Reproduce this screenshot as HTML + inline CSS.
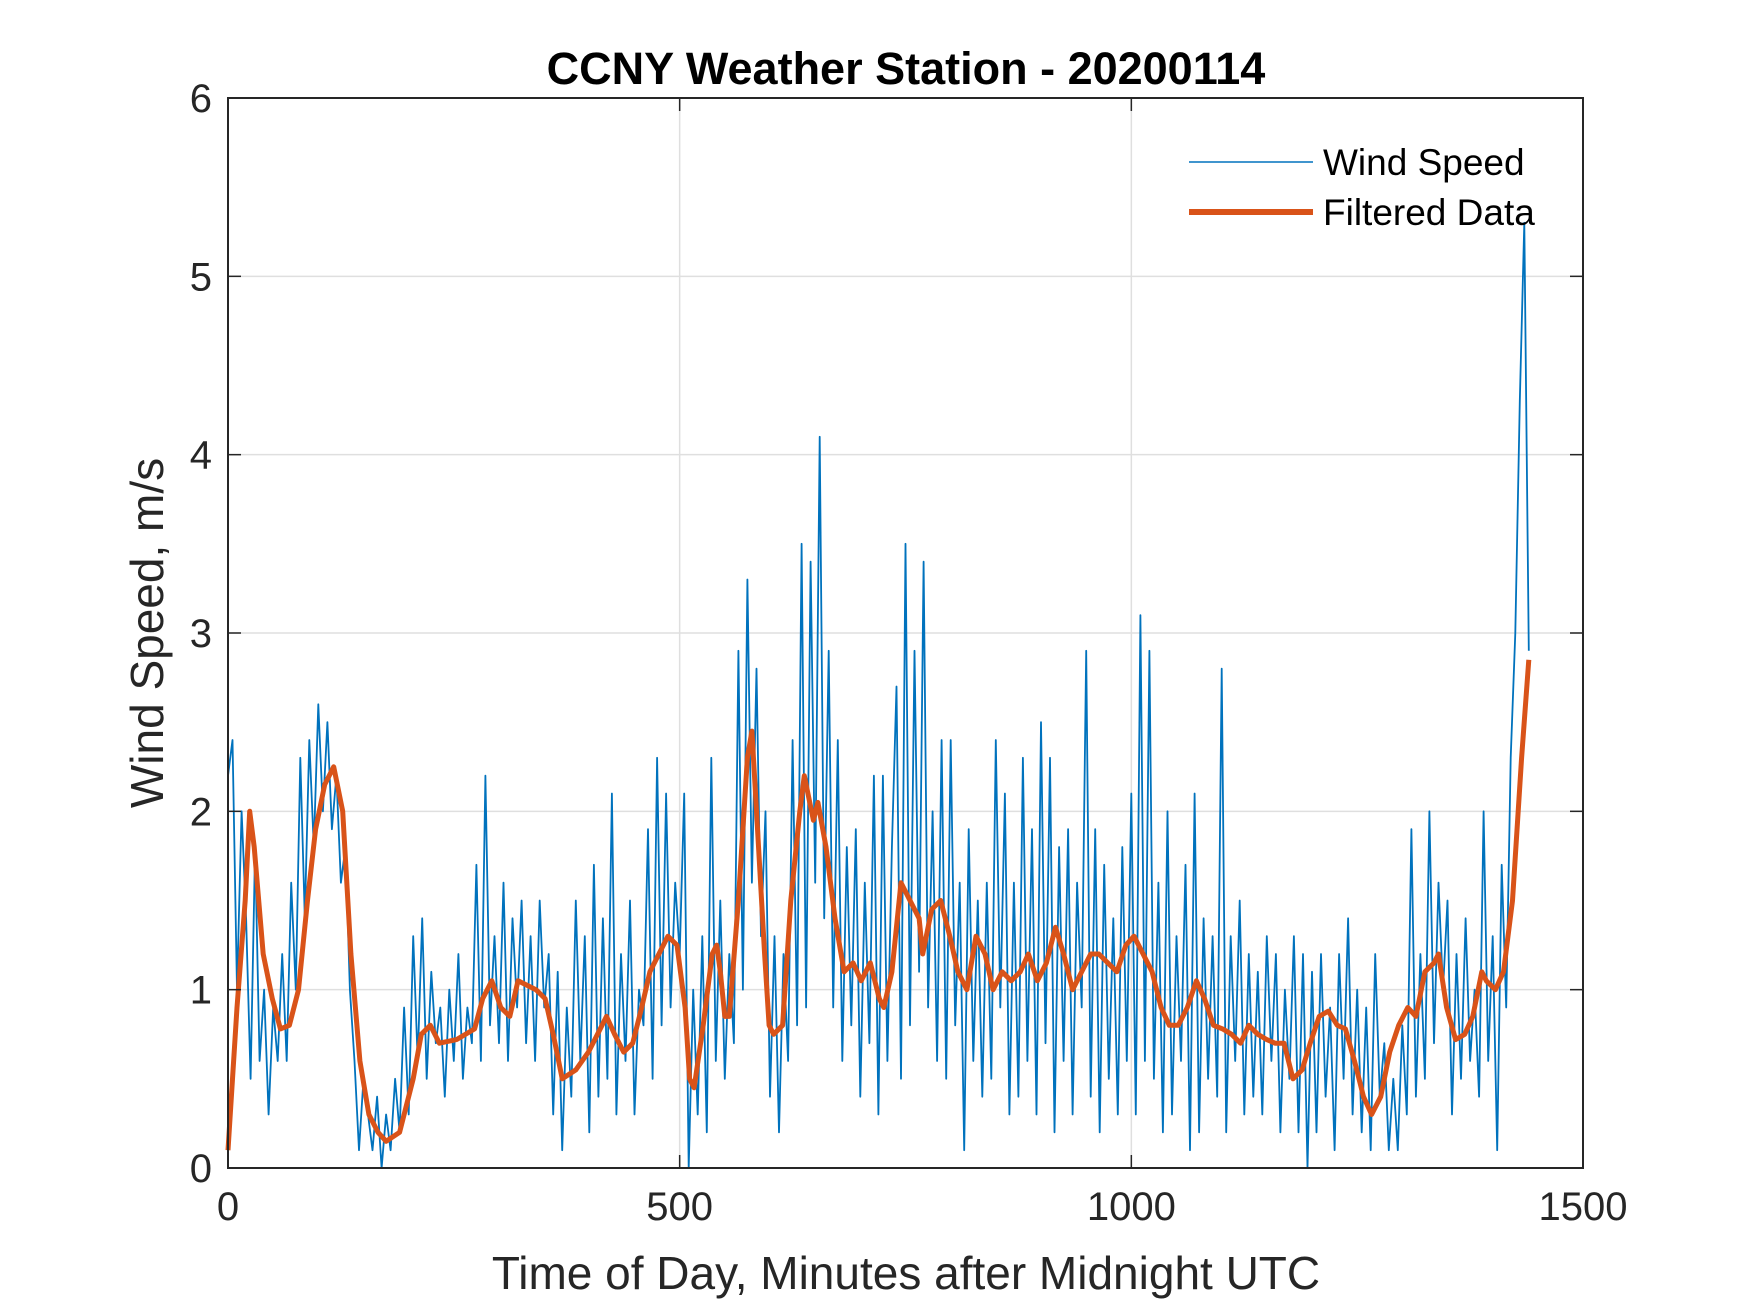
<!DOCTYPE html>
<html><head><meta charset="utf-8"><style>
html,body{margin:0;padding:0;background:#fff;}
svg{display:block;font-family:"Liberation Sans",Arial,sans-serif;}
</style></head><body>
<svg id="chart" width="1750" height="1313" viewBox="0 0 1750 1313" xmlns="http://www.w3.org/2000/svg">
<rect width="1750" height="1313" fill="#fff"/>
<g id="grid"></g>
<g id="plot"></g>
<g id="axes"></g>
<text x="906" y="84" text-anchor="middle" font-size="45" font-weight="bold" fill="#000">CCNY Weather Station - 20200114</text>
<text x="906" y="1289" text-anchor="middle" font-size="46" fill="#262626">Time of Day, Minutes after Midnight UTC</text>
<text transform="translate(163,633) rotate(-90)" text-anchor="middle" font-size="46" fill="#262626">Wind Speed, m/s</text>
<g>
<line x1="1189" y1="162" x2="1313" y2="162" stroke="#0072BD" stroke-width="1.5"/>
<text x="1323" y="175" font-size="37" fill="#000">Wind Speed</text>
<line x1="1189" y1="212" x2="1313" y2="212" stroke="#D95319" stroke-width="6"/>
<text x="1323" y="225" font-size="37" fill="#000">Filtered Data</text>
</g>
</svg>
<script>
const xTicks=[0,500,1000,1500];
const yTicks=[0,1,2,3,4,5,6];
const windStep=5;
const windSpeed=[
2.2,2.4,1.0,2.0,1.4,0.5,1.8,0.6,1.0,0.3,0.9,0.6,
1.2,0.6,1.6,1.0,2.3,1.4,2.4,1.8,2.6,2.0,2.5,1.9,
2.2,1.6,1.8,1.0,0.6,0.1,0.5,0.3,0.1,0.4,0.0,0.3,
0.1,0.5,0.2,0.9,0.3,1.3,0.6,1.4,0.5,1.1,0.7,0.9,
0.4,1.0,0.6,1.2,0.5,0.9,0.7,1.7,0.6,2.2,0.8,1.3,
0.7,1.6,0.6,1.4,0.9,1.5,0.7,1.3,0.6,1.5,0.9,1.2,
0.3,1.1,0.1,0.9,0.4,1.5,0.6,1.3,0.2,1.7,0.4,1.4,
0.5,2.1,0.3,1.2,0.6,1.5,0.3,1.0,0.8,1.9,0.5,2.3,
0.8,2.1,0.9,1.6,1.2,2.1,0.0,1.0,0.3,1.3,0.2,2.3,
0.6,1.5,0.5,1.2,0.7,2.9,1.0,3.3,1.6,2.8,1.3,2.0,
0.4,1.3,0.2,1.2,0.6,2.4,0.8,3.5,0.9,3.4,1.6,4.1,
1.4,2.9,0.9,2.4,0.6,1.8,0.8,1.9,0.4,1.6,0.7,2.2,
0.3,2.2,0.6,1.8,2.7,0.5,3.5,0.8,2.9,1.1,3.4,0.9,
2.0,0.6,2.4,0.5,2.4,0.8,1.6,0.1,1.9,0.6,1.5,0.4,
1.6,0.5,2.4,0.9,2.1,0.3,1.6,0.4,2.3,0.6,1.9,0.3,
2.5,0.7,2.3,0.2,1.8,0.6,1.9,0.3,1.6,0.9,2.9,0.4,
1.9,0.2,1.7,0.5,1.4,0.3,1.8,0.6,2.1,0.3,3.1,0.6,
2.9,0.5,1.6,0.2,2.0,0.3,1.3,0.6,1.7,0.1,2.1,0.2,
1.4,0.5,1.3,0.4,2.8,0.2,1.3,0.6,1.5,0.3,1.2,0.4,
1.1,0.3,1.3,0.6,1.2,0.2,1.0,0.5,1.3,0.2,1.2,0.0,
1.1,0.2,1.2,0.4,0.9,0.1,1.2,0.5,1.4,0.3,1.0,0.2,
0.9,0.1,1.2,0.4,0.7,0.1,0.5,0.1,0.8,0.3,1.9,0.4,
1.2,0.5,2.0,0.7,1.6,1.0,1.5,0.3,1.2,0.5,1.4,0.6,
1.0,0.4,2.0,0.6,1.3,0.1,1.7,0.9,2.3,3.0,4.3,5.3,
2.9];
const filtered=[
[0,0.1],[10,0.9],[19,1.5],[24,2.0],[29,1.8],[39,1.2],[49,0.95],[58,0.78],[68,0.8],[78,1.0],
[88,1.5],[97,1.9],[107,2.15],[117,2.25],[127,2.0],[136,1.2],[146,0.6],[156,0.3],[166,0.2],[175,0.15],
[190,0.2],[205,0.5],[214,0.75],[224,0.8],[234,0.7],[253,0.72],[273,0.78],[282,0.95],[292,1.05],[302,0.9],
[312,0.85],[321,1.05],[341,1.0],[351,0.95],[360,0.75],[370,0.5],[385,0.55],[399,0.65],[409,0.75],[419,0.85],
[428,0.75],[438,0.65],[448,0.7],[458,0.9],[467,1.1],[477,1.2],[487,1.3],[497,1.25],[506,0.9],[511,0.5],
[516,0.45],[526,0.8],[536,1.2],[541,1.25],[545,1.1],[550,0.85],[555,0.85],[565,1.5],[575,2.3],[580,2.45],
[584,2.1],[594,1.2],[599,0.8],[604,0.75],[614,0.8],[623,1.5],[633,2.0],[638,2.2],[648,1.95],[653,2.05],
[662,1.8],[672,1.4],[682,1.1],[692,1.15],[701,1.05],[711,1.15],[721,0.95],[726,0.9],[735,1.1],[745,1.6],
[755,1.5],[765,1.4],[769,1.2],[779,1.45],[789,1.5],[799,1.3],[808,1.1],[818,1.0],[828,1.3],[838,1.2],
[847,1.0],[857,1.1],[867,1.05],[877,1.1],[886,1.2],[896,1.05],[906,1.15],[916,1.35],[925,1.2],[935,1.0],
[945,1.1],[955,1.2],[964,1.2],[974,1.15],[984,1.1],[994,1.25],[1003,1.3],[1013,1.2],[1023,1.1],[1033,0.9],
[1042,0.8],[1052,0.8],[1062,0.9],[1072,1.05],[1081,0.95],[1091,0.8],[1101,0.78],[1111,0.75],[1121,0.7],[1130,0.8],
[1140,0.75],[1150,0.72],[1159,0.7],[1169,0.7],[1179,0.5],[1189,0.55],[1198,0.7],[1208,0.85],[1218,0.88],[1228,0.8],
[1237,0.78],[1247,0.6],[1257,0.4],[1266,0.3],[1276,0.4],[1286,0.65],[1296,0.8],[1306,0.9],[1315,0.85],[1325,1.1],
[1335,1.15],[1340,1.2],[1349,0.9],[1359,0.72],[1369,0.75],[1378,0.85],[1388,1.1],[1393,1.05],[1403,1.0],[1412,1.1],
[1422,1.5],[1432,2.3],[1440,2.85]];

const L=228,T=98,R=1583,B=1168;
const xMax=1500,yMax=6;
const NS="http://www.w3.org/2000/svg";
function sx(t){return L+(t/xMax)*(R-L);}
function sy(v){return B-(v/yMax)*(B-T);}
function mk(tag,attrs,parent){const e=document.createElementNS(NS,tag);for(const k in attrs)e.setAttribute(k,attrs[k]);parent.appendChild(e);return e;}
const grid=document.getElementById('grid'),plot=document.getElementById('plot'),axes=document.getElementById('axes');
xTicks.forEach(t=>{
  if(t>0&&t<xMax){const g=mk('line',{x1:sx(t),x2:sx(t),y1:T,y2:B,stroke:'#dfdfdf','stroke-width':1.5},grid);
  
  }
  const a=mk('line',{x1:sx(t),x2:sx(t),y1:B,y2:B-13,stroke:'#262626','stroke-width':1.5},axes);
  
  
  const b=mk('line',{x1:sx(t),x2:sx(t),y1:T,y2:T+13,stroke:'#262626','stroke-width':1.5},axes);
  
  
  const tx=mk('text',{x:sx(t),y:B+52,'text-anchor':'middle','font-size':40,fill:'#262626'},axes);
  tx.textContent=t;
  
  
});
yTicks.forEach(v=>{
  if(v>0&&v<yMax){const g=mk('line',{x1:L,x2:R,y1:sy(v),y2:sy(v),stroke:'#dfdfdf','stroke-width':1.5},grid);
  
  }
  const a=mk('line',{x1:L,x2:L+13,y1:sy(v),y2:sy(v),stroke:'#262626','stroke-width':1.5},axes);
  
  
  const b=mk('line',{x1:R,x2:R-13,y1:sy(v),y2:sy(v),stroke:'#262626','stroke-width':1.5},axes);
  
  
  const tx=mk('text',{x:L-16,y:sy(v)+14,'text-anchor':'end','font-size':40,fill:'#262626'},axes);
  tx.textContent=v;
  
  
});
const box=mk('rect',{x:L,y:T,width:R-L,height:B-T,fill:'none',stroke:'#262626','stroke-width':2},axes);


const wp=mk('polyline',{points:windSpeed.map((v,i)=>sx(i*windStep).toFixed(1)+','+sy(v).toFixed(1)).join(' '),fill:'none',stroke:'#0072BD','stroke-width':1.8,'stroke-linejoin':'round'},plot);


const fp=mk('polyline',{points:filtered.map(p=>sx(p[0]).toFixed(1)+','+sy(p[1]).toFixed(1)).join(' '),fill:'none',stroke:'#D95319','stroke-width':5,'stroke-linejoin':'round'},plot);


</script>
</body></html>
